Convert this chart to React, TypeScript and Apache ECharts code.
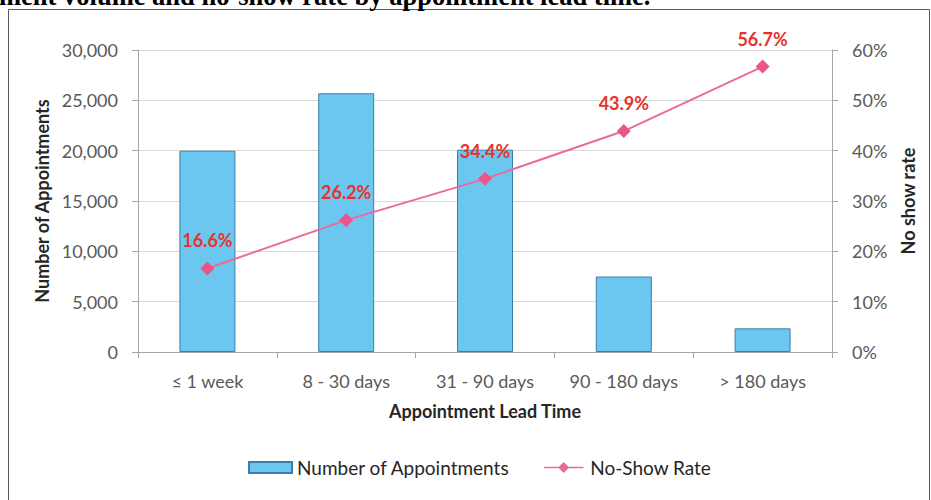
import React, { useEffect, useRef } from "react";
import * as echarts from "echarts";

const categories = ["≤ 1 week", "8 - 30 days", "31 - 90 days", "90 - 180 days", "> 180 days"];
const appointments = [20000, 25700, 20100, 7500, 2350];
const noShowRate = [16.6, 26.2, 34.4, 43.9, 56.7];
const titleText = "ment volume and no-show rate by appointment lead time.";

const FONT = "Lato";
const LABEL_COLOR = "#595959";
const NAME_COLOR = "#262626";
const LINE_LEGEND_ICON = "path://M0,4.7 H43 V6.3 H0 Z M21.5,-0.5 L27.5,5.5 L21.5,11.5 L15.5,5.5 Z";

export default function App() {
  const ref = useRef<HTMLDivElement>(null);
  useEffect(() => {
    if (!ref.current) return;
    const chart = echarts.init(ref.current, null, { renderer: "svg" });
    chart.setOption({
      animation: false,
      backgroundColor: "#ffffff",
      graphic: [
        {
          type: "rect",
          shape: { x: 8.5, y: 9.5, width: 921, height: 500 },
          style: { fill: "none", stroke: "#595959", lineWidth: 1 },
          silent: true,
        },
        {
          type: "text",
          x: -1,
          y: -4,
          style: {
            text: titleText,
            font: "bold 26.5px 'Liberation Serif'",
            fill: "#000000",
            textAlign: "left",
            textVerticalAlign: "middle",
          },
          silent: true,
        },
      ],
      grid: { left: 138, right: 99, top: 50, bottom: 148, containLabel: false },
      legend: {
        left: 248,
        top: 458,
        padding: 0,
        itemWidth: 43,
        itemHeight: 11,
        itemGap: 34,
        textStyle: { fontFamily: FONT, fontSize: 19, color: NAME_COLOR },
        data: [
          { name: "Number of Appointments", icon: "rect" },
          { name: "No-Show Rate", icon: LINE_LEGEND_ICON, itemStyle: { color: "#ea6b9a" } },
        ],
      },
      xAxis: {
        type: "category",
        data: categories,
        boundaryGap: true,
        name: "Appointment Lead Time",
        nameLocation: "middle",
        nameGap: 50,
        nameTextStyle: { fontFamily: FONT, fontSize: 18, fontWeight: "bold", color: NAME_COLOR },
        axisLine: { show: true, lineStyle: { color: "#a6a6a6", width: 1 } },
        axisTick: { show: true, alignWithLabel: false, interval: 0, length: 6, lineStyle: { color: "#a6a6a6" } },
        axisLabel: { fontFamily: FONT, fontSize: 18, color: LABEL_COLOR, margin: 20, interval: 0 },
        splitLine: { show: false },
      },
      yAxis: [
        {
          type: "value",
          min: 0,
          max: 30000,
          interval: 5000,
          name: "Number of Appointments",
          nameLocation: "middle",
          nameGap: 86,
          nameRotate: 90,
          nameTextStyle: { fontFamily: FONT, fontSize: 18, fontWeight: "bold", color: NAME_COLOR },
          axisLine: { show: true, lineStyle: { color: "#a6a6a6", width: 1 } },
          axisTick: { show: true, length: 6, lineStyle: { color: "#a6a6a6" } },
          axisLabel: {
            fontFamily: FONT,
            fontSize: 18,
            color: LABEL_COLOR,
            margin: 20,
            formatter: (v: number) => v.toLocaleString("en-US"),
          },
          splitLine: { show: true, lineStyle: { color: "#d9d9d9", width: 1 } },
        },
        {
          type: "value",
          min: 0,
          max: 60,
          interval: 10,
          position: "right",
          name: "No show rate",
          nameLocation: "middle",
          nameGap: 67,
          nameRotate: 90,
          nameTextStyle: { fontFamily: FONT, fontSize: 18, fontWeight: "bold", color: NAME_COLOR },
          axisLine: { show: true, lineStyle: { color: "#a6a6a6", width: 1 } },
          axisTick: { show: true, length: 6, lineStyle: { color: "#a6a6a6" } },
          axisLabel: {
            fontFamily: FONT,
            fontSize: 18,
            color: LABEL_COLOR,
            margin: 20,
            formatter: "{value}%",
          },
          splitLine: { show: false },
        },
      ],
      series: [
        {
          name: "Number of Appointments",
          type: "bar",
          data: appointments,
          barWidth: 56,
          itemStyle: { color: "#6cc7f0", borderColor: "#3f7ea6", borderWidth: 1 },
        },
        {
          name: "No-Show Rate",
          type: "line",
          yAxisIndex: 1,
          data: noShowRate,
          symbol: "diamond",
          symbolSize: 14,
          lineStyle: { color: "#ea6b9a", width: 2 },
          itemStyle: { color: "#e9578a" },
          label: {
            show: true,
            position: "top",
            distance: 12,
            fontFamily: FONT,
            fontSize: 18,
            fontWeight: "bold",
            color: "#e8322d",
            formatter: (p: any) => p.value.toFixed(1) + "%",
          },
        },
      ],
    });
    return () => chart.dispose();
  }, []);
  return (
    <div
      ref={ref}
      style={{ position: "absolute", left: 0, top: 0, width: 931, height: 500 }}
    />
  );
}
